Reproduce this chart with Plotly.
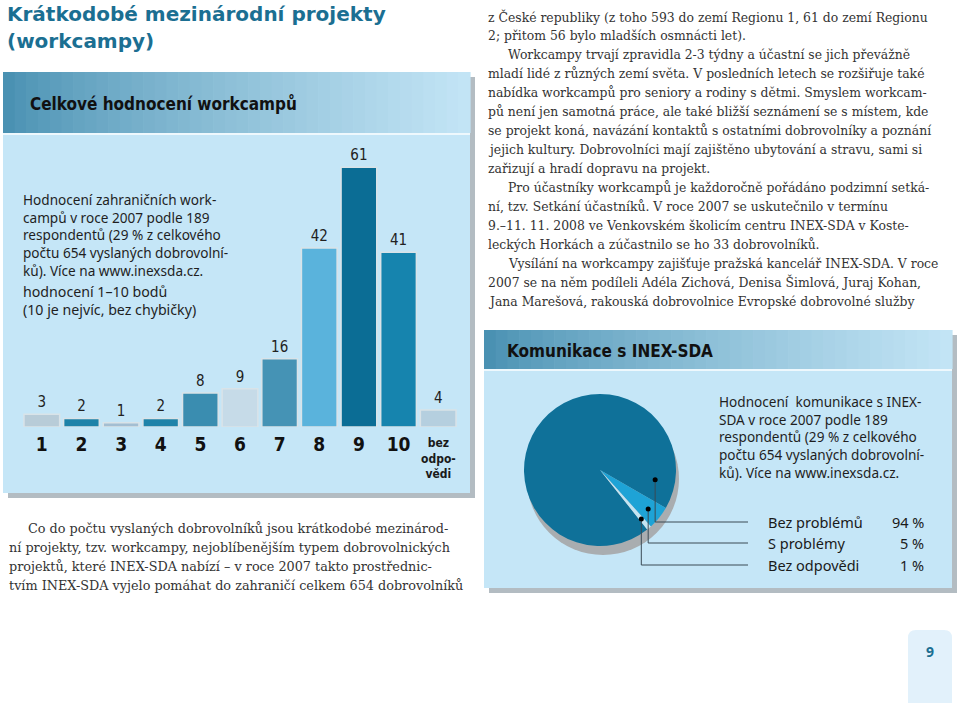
import math
import plotly.graph_objects as go

W, H = 960, 703

# ---- data ----
score_labels = ["1", "2", "3", "4", "5", "6", "7", "8", "9", "10", "bez odpovědi"]
score_counts = [3, 2, 1, 2, 8, 9, 16, 42, 61, 41, 4]
bar_colors = ["#b8ccd8", "#1d82a8", "#a3bed2", "#1f83a9", "#3a8db0", "#c6dbe8",
              "#4593b5", "#5ab3dc", "#0b6d95", "#1684ae", "#b5cfdf"]

comm_labels = ["Bez problémů", "S problémy", "Bez odpovědi"]
comm_values = [94, 5, 1]
pie_colors = ["#0f7199", "#1ea3d6", "#c4e4f2"]

title_lines = ["Krátkodobé mezinárodní projekty", "(workcampy)"]

bar_note = ["Hodnocení zahraničních work-", "campů v roce 2007 podle 189",
            "respondentů (29 % z celkového", "počtu 654 vyslaných dobrovolní-",
            "ků). Více na www.inexsda.cz."]
bar_note2 = ["hodnocení 1–10 bodů", "(10 je nejvíc, bez chybičky)"]

pie_note = ["Hodnocení  komunikace s INEX-", "SDA v roce 2007 podle 189",
            "respondentů (29 % z celkového", "počtu 654 vyslaných dobrovolní-",
            "ků). Více na www.inexsda.cz."]

right_text = [
    (0, "z České republiky (z toho 593 do zemí Regionu 1, 61 do zemí Regionu"),
    (0, "2; přitom 56 bylo mladších osmnácti let)."),
    (1, "Workcampy trvají zpravidla 2-3 týdny a účastní se jich převážně"),
    (0, "mladí lidé z různých zemí světa. V posledních letech se rozšiřuje také"),
    (0, "nabídka workcampů pro seniory a rodiny s dětmi. Smyslem workcam-"),
    (0, "pů není jen samotná práce, ale také bližší seznámení se s místem, kde"),
    (0, "se projekt koná, navázání kontaktů s ostatními dobrovolníky a poznání"),
    (0, "jejich kultury. Dobrovolníci mají zajištěno ubytování a stravu, sami si"),
    (0, "zařizují a hradí dopravu na projekt."),
    (1, "Pro účastníky workcampů je každoročně pořádáno podzimní setká-"),
    (0, "ní, tzv. Setkání účastníků. V roce 2007 se uskutečnilo v termínu"),
    (0, "9.–11. 11. 2008 ve Venkovském školicím centru INEX-SDA v Koste-"),
    (0, "leckých Horkách a zúčastnilo se ho 33 dobrovolníků."),
    (1, "Vysílání na workcampy zajišťuje pražská kancelář INEX-SDA. V roce"),
    (0, "2007 se na něm podíleli Adéla Zichová, Denisa Šimlová, Juraj Kohan,"),
    (0, "Jana Marešová, rakouská dobrovolnice Evropské dobrovolné služby"),
]

left_text = [
    (1, "Co do počtu vyslaných dobrovolníků jsou krátkodobé mezinárod-"),
    (0, "ní projekty, tzv. workcampy, nejoblíbenějším typem dobrovolnických"),
    (0, "projektů, které INEX-SDA nabízí – v roce 2007 takto prostřednic-"),
    (0, "tvím INEX-SDA vyjelo pomáhat do zahraničí celkem 654 dobrovolníků"),
]


def px(x):
    return x / W


def py(y):
    return 1 - y / H


PANEL = "#c5e6f7"
NARROW = "'DejaVu Sans Condensed', 'Roboto Condensed', 'Liberation Sans Narrow', Roboto, sans-serif"
SANS = "Noto Sans"
SERIF = "DejaVu Serif"

shapes = []
annotations = []


def rect(x0, y0, x1, y1, color):
    shapes.append(dict(type="rect", xref="paper", yref="paper",
                       x0=px(x0), x1=px(x1), y0=py(y1), y1=py(y0),
                       fillcolor=color, line=dict(width=0), layer="below"))


def mix(c1, c2, t):
    a = [int(c1[i:i + 2], 16) for i in (1, 3, 5)]
    b = [int(c2[i:i + 2], 16) for i in (1, 3, 5)]
    return "#" + "".join(f"{round(a[k] + (b[k] - a[k]) * t):02x}" for k in range(3))


def panel(x0, y0, x1, y1, hy):
    rect(x0 + 5, y0 + 5, x1 + 5, y1 + 5, "#b3bcc2")
    rect(x0, y0, x1, y1, PANEL)
    n = 40
    step = (x1 - x0) / n
    for i in range(n):
        t = min(1.0, (i / (n - 1)) ** 0.8)
        rect(x0 + i * step, y0, x0 + (i + 1) * step + 0.6, hy, mix("#4a91b2", "#c2e4f5", t))
    rect(x0, hy, x1, hy + 2, "#eef8fd")


def text(x, y, s, size, font=SANS, color="#222222", anchor="left", yanchor="middle"):
    annotations.append(dict(x=px(x), y=py(y), xref="paper", yref="paper", text=s,
                            showarrow=False, xanchor=anchor, yanchor=yanchor, align=anchor,
                            font=dict(family=font, size=size, color=color)))


# ---- panels ----
panel(3, 72, 470, 493, 133)
panel(484, 330, 952, 588, 369)

# title
for i, line in enumerate(title_lines):
    text(5, 14 + i * 27, f"<b>{line}</b>", 20, "DejaVu Sans", "#1b6f92")

text(28, 103, "<b>Celkové hodnocení workcampů</b>", 17, NARROW, "#111111")
text(505, 351, "<b>Komunikace s INEX-SDA</b>", 17, NARROW, "#111111")

text(21, 188, "<br>".join(bar_note), 13.6, SANS, "#1f1f1f", yanchor="top")
text(21, 280, "<br>".join(bar_note2), 14.2, SANS, "#1f1f1f", yanchor="top")
text(717, 390, "<br>".join(pie_note), 13.6, SANS, "#1f1f1f", yanchor="top")

for i, (ind, line) in enumerate(right_text):
    text(486 + 20 * ind, 17 + i * 18.95, line, 12.4, SERIF, "#333333")

for i, (ind, line) in enumerate(left_text):
    text(7 + 19 * ind, 528 + i * 19.3, line, 12.8, SERIF, "#333333")

# page number tab
shapes.append(dict(type="path", xref="paper", yref="paper", layer="below",
                   path=f"M {px(908)},{py(703)} L {px(908)},{py(638)} Q {px(908)},{py(630)} {px(916)},{py(630)} "
                        f"L {px(944)},{py(630)} Q {px(952)},{py(630)} {px(952)},{py(638)} L {px(952)},{py(703)} Z",
                   fillcolor="#e2f1fb", line=dict(width=0)))
text(930, 651, "<b>9</b>", 14, SANS, "#1b6f92", "center")

# ---- bar chart ----
fig = go.Figure()
fig.add_trace(go.Bar(
    x=score_labels, y=score_counts,
    marker=dict(color=bar_colors, line=dict(width=1.5, color="#d9e3e8")),
    text=[str(v) for v in score_counts], textposition="outside",
    textfont=dict(family=NARROW, size=15, color="#222222"),
    constraintext="none", cliponaxis=False, showlegend=False,
    hoverinfo="x+y",
))

tick_text = [f"<b>{c}</b>" for c in score_labels[:-1]] + [""]
text(438, 458, "<b>bez<br>odpo-<br>vědi</b>", 12, NARROW, "#1a1a1a", "center")

# ---- pie chart ----
cx, cy, R = 600, 470, 76
total = sum(comm_values)
small_start = 120.0
rotation = small_start + sum(comm_values[1:]) / total * 360
shapes.append(dict(type="circle", xref="paper", yref="paper", layer="below",
                   x0=px(cx - R + 3), x1=px(cx + R + 3), y0=py(cy + R + 9), y1=py(cy - R + 9),
                   fillcolor="#a9adb0", line=dict(width=0)))
fig.add_trace(go.Pie(
    labels=comm_labels, values=comm_values, sort=False, direction="clockwise",
    rotation=rotation, marker=dict(colors=pie_colors, line=dict(width=0)),
    textinfo="none", showlegend=False, hole=0,
    domain=dict(x=[px(cx - R), px(cx + R)], y=[py(cy + R), py(cy - R)]),
))

# leader lines from slices to labels
slice_mid = []
a = rotation
for v in comm_values:
    span = v / total * 360
    slice_mid.append((a + span / 2) % 360)
    a += span
dot_angles = [100.0, slice_mid[1], slice_mid[2]]
dot_radii = [56, 62, 64]
label_y = [522, 543, 565]
for i, lab in enumerate(comm_labels):
    ang = math.radians(dot_angles[i])
    dx = cx + dot_radii[i] * math.sin(ang)
    dy = cy - dot_radii[i] * math.cos(ang)
    shapes.append(dict(type="path", xref="paper", yref="paper",
                       path=f"M {px(dx)},{py(dy)} L {px(dx)},{py(label_y[i])} L {px(748)},{py(label_y[i])}",
                       line=dict(color="#3a4a55", width=1)))
    shapes.append(dict(type="circle", xref="paper", yref="paper",
                       x0=px(dx - 2.5), x1=px(dx + 2.5), y0=py(dy + 2.5), y1=py(dy - 2.5),
                       fillcolor="#000000", line=dict(width=0)))
    text(766, label_y[i], lab, 14.5, SANS, "#1a1a1a")
    text(926, label_y[i], f"{comm_values[i]} %", 14.5, SANS, "#1a1a1a", "right")

fig.update_xaxes(
    domain=[px(22), px(458)], type="category", tickvals=score_labels, ticktext=tick_text,
    showgrid=False, zeroline=False, showline=False, ticks="", ticklabelstandoff=4,
    tickfont=dict(family=NARROW, size=19, color="#111111"),
)
fig.update_yaxes(
    domain=[py(427), py(427 - 70 * 4.26)], range=[0, 70], visible=False,
    showgrid=False, zeroline=False,
)

fig.update_layout(
    width=W, height=H, margin=dict(l=0, r=0, t=0, b=0),
    paper_bgcolor="white", plot_bgcolor="rgba(0,0,0,0)",
    bargap=0.1, shapes=shapes, annotations=annotations,
)

fig.write_html("out.html", config={"displayModeBar": False},
               post_script="document.body.style.margin='0';")
